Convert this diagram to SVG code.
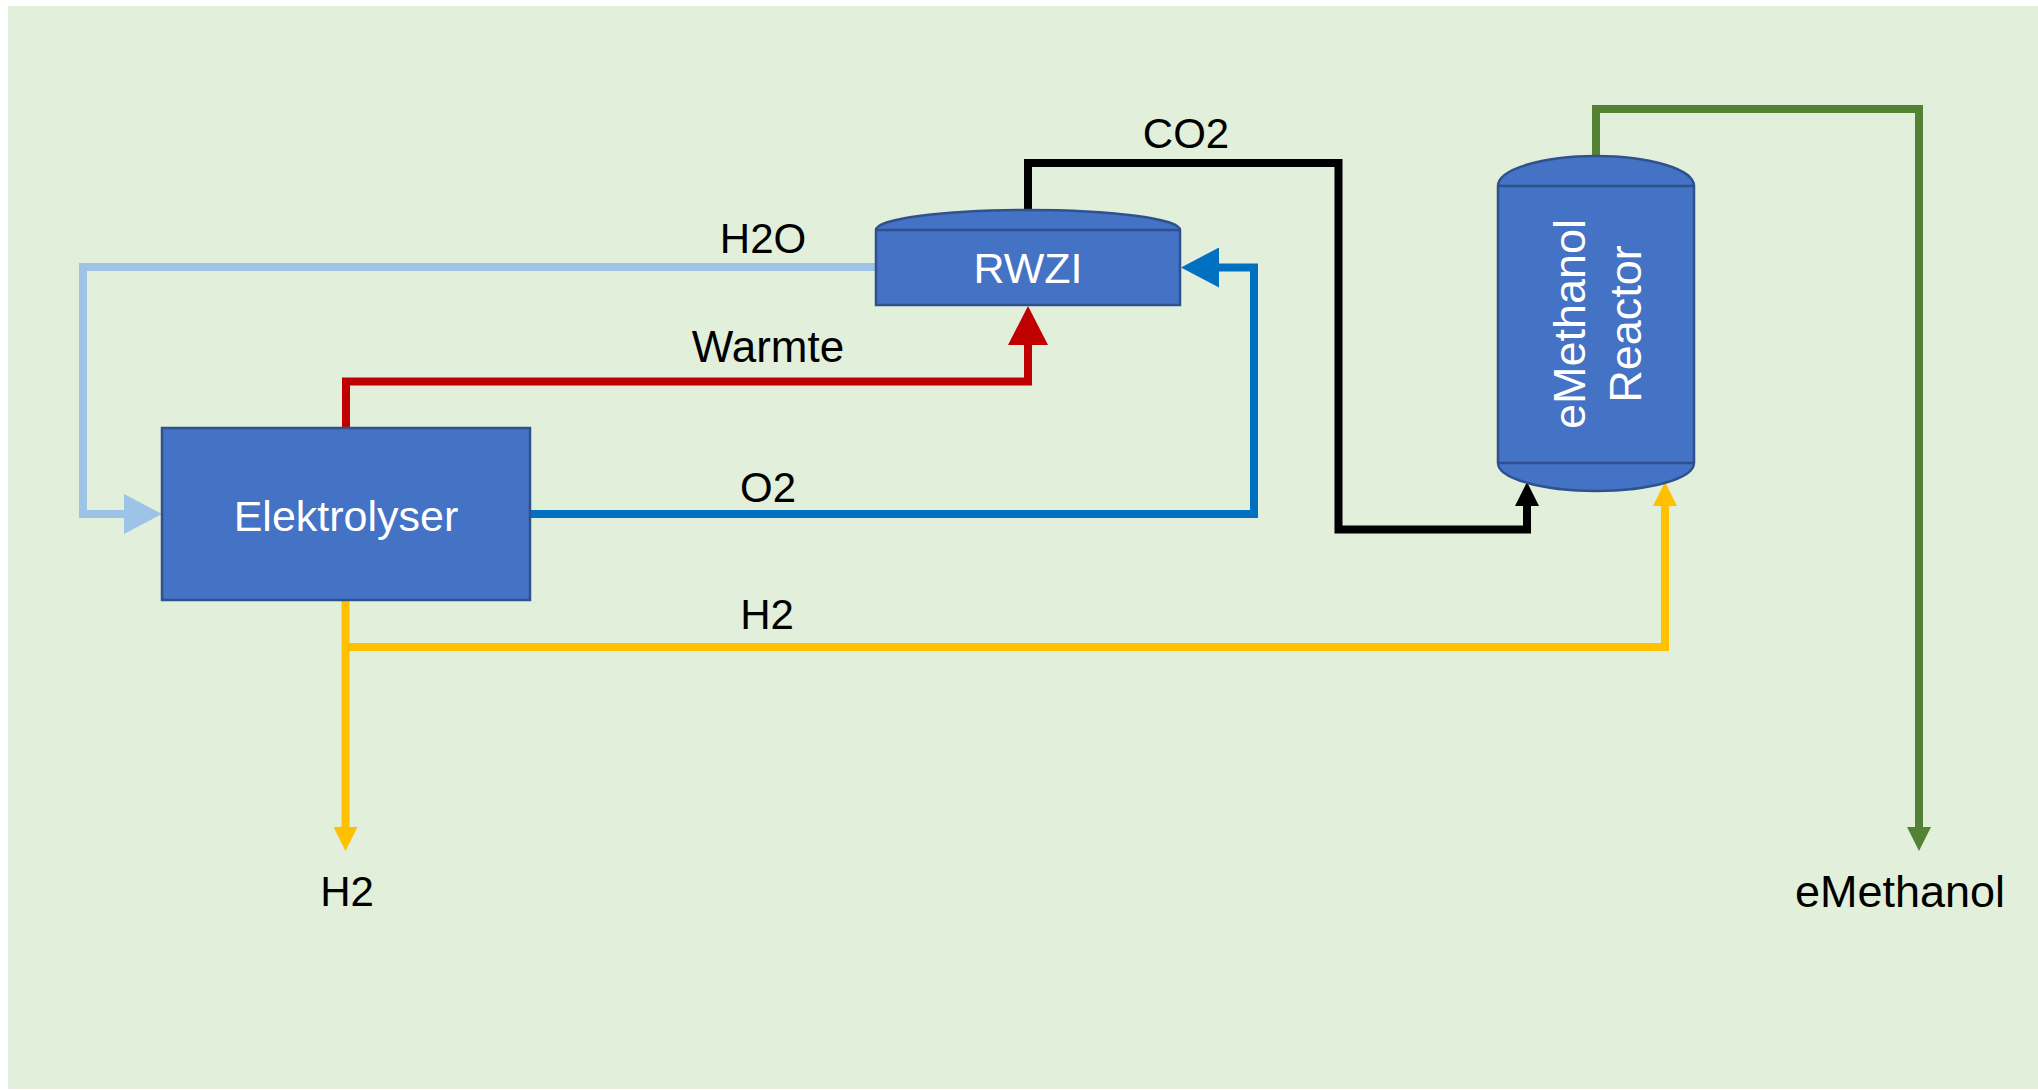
<svg xmlns="http://www.w3.org/2000/svg" width="2038" height="1090" viewBox="0 0 2038 1090">
<style>
.lbl{font-family:"Liberation Sans",Arial,sans-serif;font-size:42px;fill:#000;text-anchor:middle}
.nlbl{font-family:"Liberation Sans",Arial,sans-serif;font-size:43px;fill:#fff;text-anchor:middle}
.node{fill:#4472C4;stroke:#2F528F;stroke-width:2.5}
.sep{fill:none;stroke:#2F528F;stroke-width:2.5}
.pipe{fill:none;stroke-width:8;stroke-linejoin:miter;stroke-linecap:butt}
</style>
<defs>
<marker id="aLB" markerUnits="userSpaceOnUse" markerWidth="40" markerHeight="40" viewBox="0 0 38 40" refX="0" refY="20" orient="auto"><path d="M0,0 L38,20 L0,40 Z" fill="#9DC3E6"/></marker>
<marker id="aR" markerUnits="userSpaceOnUse" markerWidth="40" markerHeight="40" viewBox="0 0 39 40" refX="0" refY="20" orient="auto"><path d="M0,0 L39,20 L0,40 Z" fill="#C00000"/></marker>
<marker id="aB" markerUnits="userSpaceOnUse" markerWidth="40" markerHeight="40" viewBox="0 0 38 40" refX="0" refY="20" orient="auto"><path d="M0,0 L38,20 L0,40 Z" fill="#0070C0"/></marker>
<marker id="aK" markerUnits="userSpaceOnUse" markerWidth="24" markerHeight="24" viewBox="0 0 24 24" refX="0" refY="12" orient="auto"><path d="M0,0 L24,12 L0,24 Z" fill="#000"/></marker>
<marker id="aY" markerUnits="userSpaceOnUse" markerWidth="24" markerHeight="24" viewBox="0 0 24 24" refX="0" refY="12" orient="auto"><path d="M0,0 L24,12 L0,24 Z" fill="#FFC000"/></marker>
<marker id="aG" markerUnits="userSpaceOnUse" markerWidth="24" markerHeight="24" viewBox="0 0 24 24" refX="0" refY="12" orient="auto"><path d="M0,0 L24,12 L0,24 Z" fill="#548235"/></marker>
</defs>
<rect x="0" y="0" width="2038" height="1090" fill="#fff"/>
<rect x="8" y="6" width="2030" height="1083" fill="#E2EFDA"/>
<g id="connectors">
<path class="pipe" stroke="#9DC3E6" d="M876,267 H83 V514 H124" marker-end="url(#aLB)"/>
<path class="pipe" stroke="#C00000" d="M346,428 V381.5 H1028 V345" marker-end="url(#aR)"/>
<path class="pipe" stroke="#0070C0" d="M530,514 H1254 V267.5 H1219" marker-end="url(#aB)"/>
<path class="pipe" stroke="#000" d="M1028,211 V163 H1338.5 V529.5 H1527 V506" marker-end="url(#aK)"/>
<path class="pipe" stroke="#FFC000" d="M345.5,600 V827" marker-end="url(#aY)"/>
<path class="pipe" stroke="#FFC000" d="M345.5,647 H1665 V506" marker-end="url(#aY)"/>
<path class="pipe" stroke="#548235" d="M1596,157 V109 H1919 V827" marker-end="url(#aG)"/>
</g>
<g id="labels">
<text class="lbl" x="763" y="253">H2O</text>
<text class="lbl" x="768" y="362" style="font-size:44px">Warmte</text>
<text class="lbl" x="768" y="502">O2</text>
<text class="lbl" x="767" y="629">H2</text>
<text class="lbl" x="1186" y="148">CO2</text>
<text class="lbl" x="347" y="906">H2</text>
<text class="lbl" x="1900" y="907" style="font-size:45px">eMethanol</text>
</g>
<g id="elektrolyser">
<rect class="node" x="162" y="428" width="368" height="172"/>
<text class="nlbl" x="346" y="531">Elektrolyser</text>
</g>
<g id="rwzi">
<path class="node" d="M876,230 A152,20 0 0 1 1180,230 V305 H876 Z"/>
<line class="sep" x1="876" y1="230" x2="1180" y2="230"/>
<text class="nlbl" x="1028" y="283">RWZI</text>
</g>
<g id="reactor">
<path class="node" d="M1498,186 A98,30 0 0 1 1694,186 V463 A98,28 0 0 1 1498,463 Z"/>
<line class="sep" x1="1498" y1="186" x2="1694" y2="186"/>
<line class="sep" x1="1498" y1="463" x2="1694" y2="463"/>
<g transform="translate(1596,324) rotate(-90)">
<text class="nlbl" x="0" y="-11" style="font-size:45px">eMethanol</text>
<text class="nlbl" x="0" y="45" style="font-size:45px">Reactor</text>
</g>
</g>
</svg>
